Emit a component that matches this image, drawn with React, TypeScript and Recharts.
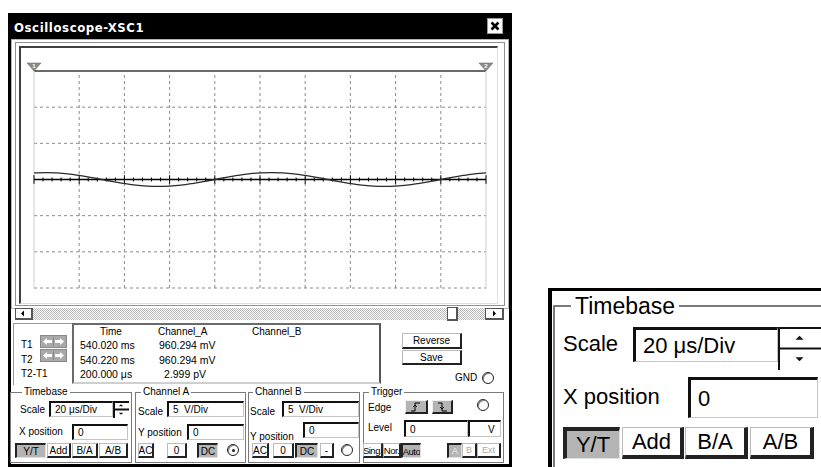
import React from "react";
import { LineChart, Line, XAxis, YAxis, CartesianGrid, ReferenceLine } from "recharts";

const timeUs = [
  0, 5, 10, 15, 20, 25, 30, 35, 40, 45, 50, 55, 60, 65, 70, 75, 80, 85, 90, 95, 100,
  105, 110, 115, 120, 125, 130, 135, 140, 145, 150, 155, 160, 165, 170, 175, 180, 185, 190, 195, 200,
];
const channelA = [
  0.91, 0.96, 0.91, 0.78, 0.56, 0.3, 0.0, -0.3, -0.56, -0.78, -0.91, -0.96, -0.91, -0.78, -0.56, -0.3, 0.0, 0.3, 0.56, 0.78, 0.91,
  0.96, 0.91, 0.78, 0.56, 0.3, 0.0, -0.3, -0.56, -0.78, -0.91, -0.96, -0.91, -0.78, -0.56, -0.3, 0.0, 0.3, 0.56, 0.78, 0.91,
];
const timeTicks = [0, 20, 40, 60, 80, 100, 120, 140, 160, 180, 200];
const voltTicks = [-15, -10, -5, 0, 5, 10, 15];
const minorTicks = Array.from({ length: 51 }, (_, i) => i * 4);

const readHeaders = ["Time", "Channel_A", "Channel_B"];
const readLabels = ["T1", "T2", "T2-T1"];
const readTimes = ["540.020 ms", "540.220 ms", "200.000 μs"];
const readChA = ["960.294 mV", "960.294 mV", "2.999 pV"];

const UI = '"Liberation Sans", Arial, sans-serif';
type S = React.CSSProperties;

const at = (x: number, y: number, w?: number, h?: number, s: S = {}): S => ({
  position: "absolute",
  left: x,
  top: y,
  width: w,
  height: h,
  boxSizing: "border-box",
  ...s,
});

function T({ x, y, size = 10, children, bold = false, color = "#000", font = UI, spacing = 0 }: any) {
  return (
    <div
      style={{
        position: "absolute",
        left: x,
        top: y,
        transform: "translateY(-50%)",
        fontSize: size,
        lineHeight: 1,
        whiteSpace: "pre",
        fontFamily: font,
        fontWeight: bold ? 700 : 400,
        letterSpacing: spacing,
        color,
      }}
    >
      {children}
    </div>
  );
}

function Field({ x, y, w, h, text, size = 10, pad = 4, bw = 2 }: any) {
  return (
    <div
      style={at(x, y, w, h, {
        background: "#fff",
        borderTop: `${bw}px solid #111`,
        borderLeft: `${bw}px solid #111`,
        borderRight: "1px solid #c4c4c4",
        borderBottom: "1px solid #c4c4c4",
        fontSize: size,
        fontFamily: UI,
        display: "flex",
        alignItems: "center",
        paddingLeft: pad,
        whiteSpace: "pre",
      })}
    >
      {text}
    </div>
  );
}

function Btn({ x, y, w, h, text, size = 10, down = false, dim = false, bw = 2, spacing = 0 }: any) {
  const look: S = down
    ? {
        background: "#b4b4b4",
        borderTop: `${bw}px solid #222`,
        borderLeft: `${bw}px solid #222`,
        borderRight: "1px solid #e0e0e0",
        borderBottom: "1px solid #e0e0e0",
      }
    : {
        background: "#fff",
        borderTop: "1px solid #bbb",
        borderLeft: "1px solid #bbb",
        borderRight: `${bw}px solid #222`,
        borderBottom: `${bw}px solid #222`,
      };
  return (
    <div
      style={at(x, y, w, h, {
        ...look,
        fontSize: size,
        fontFamily: UI,
        letterSpacing: spacing,
        display: "flex",
        alignItems: "center",
        justifyContent: "center",
        whiteSpace: "nowrap",
        overflow: "hidden",
        color: dim ? (down ? "#eee" : "#aaa") : "#000",
      })}
    >
      {text}
    </div>
  );
}

function Group({ x, y, w, h, label, lx }: any) {
  return (
    <>
      <div style={at(x, y, w, h, { border: "1px solid #7a7a7a" })} />
      <div
        style={{
          position: "absolute",
          left: x + lx,
          top: y,
          transform: "translateY(-50%)",
          background: "#fff",
          padding: "0 2px",
          fontSize: 10,
          fontFamily: UI,
          lineHeight: 1,
        }}
      >
        {label}
      </div>
    </>
  );
}

function Radio({ cx, cy, r = 6, on = false }: any) {
  return (
    <div
      style={at(cx - r, cy - r, 2 * r, 2 * r, {
        border: "1px solid #222",
        borderRadius: "50%",
        boxShadow: "inset 1px 1px 0 #888",
        background: "#fff",
        display: "flex",
        alignItems: "center",
        justifyContent: "center",
      })}
    >
      {on && <div style={{ width: 3, height: 3, borderRadius: "50%", background: "#222" }} />}
    </div>
  );
}

function Spinner({ x, y, w, h, a = 3 }: any) {
  const half = h / 2;
  return (
    <div style={at(x, y, w, h, { borderTop: "2px solid #111", borderLeft: "2px solid #111", background: "#fff" })}>
      <svg width={w} height={h} style={{ position: "absolute", left: -2, top: -2 }}>
        <line x1={0} x2={w} y1={half} y2={half} stroke="#111" strokeWidth={2} />
        <polygon points={`${w / 2 - a},${half / 2 + a / 2} ${w / 2 + a},${half / 2 + a / 2} ${w / 2},${half / 2 - a / 2}`} fill="#111" />
        <polygon
          points={`${w / 2 - a},${half + half / 2 - a / 2} ${w / 2 + a},${half + half / 2 - a / 2} ${w / 2},${half + half / 2 + a / 2}`}
          fill="#111"
        />
      </svg>
    </div>
  );
}

function Cursor(props: any) {
  const { x1, y1, y2, num } = props;
  const top = Math.min(y1, y2);
  return (
    <g>
      <line x1={x1} x2={x1} y1={y1} y2={y2} stroke="#cfcfcf" strokeWidth={1} />
      <polygon points={`${x1 - 7},${top - 8} ${x1 + 7},${top - 8} ${x1},${top}`} fill="#8a8a8a" stroke="#666" strokeWidth={0.5} />
      <text x={x1} y={top - 3.5} fontSize={6} fill="#fff" textAnchor="middle" fontFamily={UI} fontWeight={700}>
        {num}
      </text>
    </g>
  );
}

function Scope() {
  const data = timeUs.map((t, i) => ({ t, a: channelA[i] }));
  return (
    <LineChart width={478} height={256} data={data} margin={{ top: 24, right: 12, bottom: 15, left: 14 }}>
      <CartesianGrid stroke="#8c8c8c" strokeDasharray="3 3" vertical={false} />
      <XAxis
        dataKey="t"
        type="number"
        domain={[0, 200]}
        ticks={timeTicks}
        tick={false}
        tickLine={false}
        axisLine={{ stroke: "#000", strokeWidth: 2 }}
        height={0}
      />
      <YAxis type="number" domain={[-15, 15]} ticks={voltTicks} hide width={0} />
      {timeTicks.slice(1, -1).map((t) => (
        <ReferenceLine key={`g${t}`} x={t} stroke="#8c8c8c" strokeDasharray="3 3" />
      ))}
      <ReferenceLine y={15} stroke="#6a6a6a" strokeWidth={2} />
      <ReferenceLine x={0} shape={(p: any) => <Cursor {...p} num="1" />} />
      <ReferenceLine x={200} shape={(p: any) => <Cursor {...p} num="2" />} />
      <ReferenceLine y={0} stroke="#000" strokeWidth={1.3} />
      {minorTicks.map((t) => {
        const major = t % 20 === 0;
        const d = major ? 0.6 : 0.28;
        return (
          <ReferenceLine
            key={t}
            segment={[
              { x: t, y: -d },
              { x: t, y: d },
            ]}
            stroke="#000"
            strokeWidth={1}
          />
        );
      })}
      <Line type="monotone" dataKey="a" stroke="#2a2a2a" strokeWidth={1.3} dot={false} isAnimationActive={false} />
    </LineChart>
  );
}

function Arrows({ x, y }: any) {
  return (
    <div style={at(x, y, 27, 13, { background: "#a9a9a9", border: "1px solid #888" })}>
      <svg width={25} height={11} style={{ position: "absolute", left: 0, top: 0 }}>
        <path d="M2 5.5 L6 2 V4 H11 V7 H6 V9 Z" fill="#fff" />
        <path d="M23 5.5 L19 2 V4 H14 V7 H19 V9 Z" fill="#fff" />
        <line x1={12.5} x2={12.5} y1={1} y2={10} stroke="#888" strokeWidth={1} />
      </svg>
    </div>
  );
}

function EdgeBtn({ x, y, rising }: any) {
  return (
    <div
      style={at(x, y, rising ? 23 : 21, 14, {
        background: "#b4b4b4",
        borderTop: "1px solid #eee",
        borderLeft: "1px solid #eee",
        borderRight: "2px solid #222",
        borderBottom: "2px solid #222",
      })}
    >
      <svg width={20} height={12} style={{ position: "absolute", left: 0, top: 0 }}>
        {rising ? (
          <path d="M5 10 H9 V2 H14 M7 6 L9 4 L11 6" stroke="#000" fill="none" strokeWidth={1} />
        ) : (
          <path d="M5 2 H9 V10 H14 M7 6 L9 8 L11 6" stroke="#000" fill="none" strokeWidth={1} />
        )}
      </svg>
    </div>
  );
}

export default function App() {
  return (
    <div style={{ position: "absolute", left: 0, top: 0, width: 821, height: 467, background: "#fff", overflow: "hidden", fontFamily: UI }}>
      {/* window */}
      <div style={at(8, 13, 504, 454, { border: "3px solid #000" })} />
      <div style={at(8, 13, 504, 26, { background: "#000" })} />
      <T x={14} y={27} size={13} bold color="#fff" font='"DejaVu Sans Condensed", "DejaVu Sans", sans-serif' spacing={0.6}>
        Oscilloscope-XSC1
      </T>
      <div style={at(487, 18, 16, 16, { background: "#fff", border: "1px solid #999" })}>
        <svg width={14} height={14} style={{ position: "absolute", left: 0, top: 0 }}>
          <path d="M3.5 3.5 L10.5 10.5 M10.5 3.5 L3.5 10.5" stroke="#000" strokeWidth={2.6} />
        </svg>
      </div>

      {/* screen frame */}
      <div style={at(11, 39, 498, 270, { border: "1px solid #b4b4b4" })} />
      <div style={at(15, 42, 490, 264, { border: "1px solid #909090" })} />
      <div
        style={at(19, 46, 479, 258, {
          background: "#fff",
          borderTop: "2px solid #404040",
          borderLeft: "2px solid #404040",
          borderRight: "1px solid #e0e0e0",
          borderBottom: "1px solid #e0e0e0",
        })}
      />
      <div style={at(20, 47, 478, 256)}>
        <Scope />
      </div>

      {/* scrollbar */}
      <div style={at(33, 308, 452, 12, { background: "repeating-conic-gradient(#b8b8b8 0 25%, #fff 0 50%) 0 0 / 2px 2px" })} />
      <div style={at(15, 308, 18, 12, { background: "#fff", border: "1px solid #555", borderRightWidth: 2, borderBottomWidth: 2 })}>
        <svg width={16} height={10} style={{ position: "absolute", left: 0, top: 0 }}>
          <polygon points="5,4.5 8,1.5 8,7.5" fill="#000" />
        </svg>
      </div>
      <div style={at(447, 307, 11, 14, { background: "#fff", border: "1px solid #555", borderRightWidth: 2, borderBottomWidth: 2 })} />
      <div style={at(485, 308, 19, 12, { background: "#fff", border: "1px solid #555", borderRightWidth: 2, borderBottomWidth: 2 })}>
        <svg width={16} height={10} style={{ position: "absolute", left: 0, top: 0 }}>
          <polygon points="10,4.5 7,1.5 7,7.5" fill="#000" />
        </svg>
      </div>

      {/* cursor readout */}
      <div style={at(13, 323, 60, 62, { borderTop: "1px solid #999", borderLeft: "1px solid #999" })} />
      <div style={at(72, 323, 309, 61, { border: "2px solid #6a6a6a", borderRightColor: "#555", borderBottomColor: "#cfcfcf" })} />
      {readLabels.map((l, i) => (
        <T key={l} x={21} y={345 + i * 14.5} size={10}>
          {l}
        </T>
      ))}
      <Arrows x={40} y={335} />
      <Arrows x={40} y={349} />
      <T x={100} y={332}>{readHeaders[0]}</T>
      <T x={158} y={332}>{readHeaders[1]}</T>
      <T x={252} y={332}>{readHeaders[2]}</T>
      {readTimes.map((v, i) => (
        <T key={v} x={80} y={345 + i * 14.5} size={10.5}>
          {v}
        </T>
      ))}
      {readChA.map((v, i) => (
        <T key={i} x={i === 2 ? 164 : 159} y={345 + i * 14.5} size={10.5}>
          {v}
        </T>
      ))}
      <Btn x={402} y={333} w={60} h={16} text="Reverse" />
      <Btn x={402} y={350} w={60} h={15} text="Save" />
      <T x={455} y={378} size={10}>GND</T>
      <Radio cx={488} cy={378} />

      {/* timebase */}
      <Group x={10} y={392} w={122} h={71} label="Timebase" lx={12} />
      <T x={20} y={410}>Scale</T>
      <Field x={49} y={401} w={64} h={16} text="20 μs/Div" />
      <Spinner x={113} y={401} w={16} h={17} a={2.2} />
      <T x={19} y={432}>X position</T>
      <Field x={72} y={424} w={56} h={16} text="0" />
      <Btn x={15} y={443} w={31} h={15} text="Y/T" down />
      <Btn x={47} y={443} w={24} h={15} text="Add" />
      <Btn x={72} y={443} w={26} h={15} text="B/A" />
      <Btn x={99} y={443} w={29} h={15} text="A/B" />

      {/* channel A */}
      <Group x={135} y={392} w={111} h={71} label="Channel A" lx={6} />
      <T x={138} y={412}>Scale</T>
      <Field x={167} y={401} w={77} h={16} text="5  V/Div" />
      <T x={138} y={433}>Y position</T>
      <Field x={187} y={424} w={57} h={16} text="0" />
      <Btn x={138} y={443} w={16} h={15} text="AC" />
      <Btn x={167} y={443} w={20} h={15} text="0" />
      <Btn x={197} y={443} w={21} h={15} text="DC" down />
      <Radio cx={233} cy={450} on />

      {/* channel B */}
      <Group x={248} y={392} w={112} h={71} label="Channel B" lx={5} />
      <T x={250} y={412}>Scale</T>
      <Field x={282} y={401} w={77} h={16} text="5  V/Div" />
      <T x={250} y={437}>Y position</T>
      <Field x={303} y={422} w={56} h={16} text="0" />
      <Btn x={252} y={443} w={17} h={15} text="AC" />
      <Btn x={273} y={443} w={21} h={15} text="0" />
      <Btn x={295} y={443} w={23} h={15} text="DC" down />
      <Btn x={320} y={443} w={14} h={15} text="-" />
      <Radio cx={347} cy={450} />

      {/* trigger */}
      <Group x={363} y={392} w={141} h={71} label="Trigger" lx={6} />
      <T x={368} y={408}>Edge</T>
      <EdgeBtn x={405} y={400} rising />
      <EdgeBtn x={432} y={400} />
      <Radio cx={483} cy={405} />
      <T x={368} y={428}>Level</T>
      <Field x={404} y={420} w={64} h={17} text="0" />
      <Field x={468} y={420} w={33} h={17} text="V" pad={18} />
      <Btn x={363} y={443} w={20} h={15} text="Sing." size={9.5} spacing={-0.5} />
      <Btn x={383} y={443} w={18} h={15} text="Nor." size={9.5} spacing={-0.5} />
      <Btn x={401} y={443} w={20} h={15} text="Auto" size={9.5} spacing={-0.5} down />
      <Btn x={447} y={443} w={15} h={15} text="A" size={9} down dim />
      <Btn x={462} y={443} w={15} h={15} text="B" size={9} dim />
      <Btn x={477} y={443} w={24} h={15} text="Ext" size={9} dim />

      {/* magnified timebase panel */}
      <div style={at(548, 288, 280, 190, { borderTop: "3px solid #000", borderLeft: "4px solid #000" })} />
      <div style={at(553, 305, 280, 170, { borderTop: "2px solid #7a7a7a", borderLeft: "2px solid #7a7a7a" })} />
      <div
        style={{
          position: "absolute",
          left: 571,
          top: 306,
          transform: "translateY(-50%)",
          background: "#fff",
          padding: "0 4px",
          fontSize: 23,
          fontFamily: UI,
          lineHeight: 1,
        }}
      >
        Timebase
      </div>
      <T x={563} y={344} size={22}>Scale</T>
      <Field x={633} y={327} w={145} h={35} text="20 μs/Div" size={22} pad={7} bw={3} />
      <Spinner x={778} y={327} w={43} h={43} a={4} />
      <T x={563} y={397} size={22}>X position</T>
      <Field x={688} y={377} w={130} h={41} text="0" size={22} pad={7} bw={3} />
      <Btn x={563} y={427} w={57} h={32} text="Y/T" size={22} down bw={4} />
      <Btn x={622} y={427} w={62} h={32} text="Add" size={22} bw={4} />
      <Btn x={685} y={427} w={63} h={32} text="B/A" size={22} bw={4} />
      <Btn x={750} y={427} w={64} h={32} text="A/B" size={22} bw={4} />
    </div>
  );
}
